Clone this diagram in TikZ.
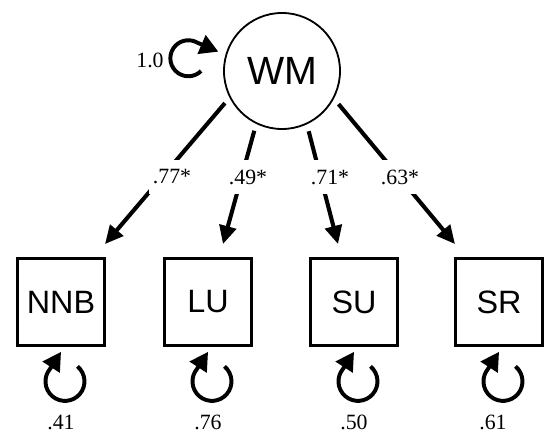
\documentclass[tikz,border=0pt]{standalone}
\usepackage{fontspec}
\setmainfont{Liberation Serif}
\setsansfont{Liberation Sans}
\usetikzlibrary{arrows.meta}

\begin{document}
\begin{tikzpicture}[x=0.025cm, y=0.025cm,
    latent/.style={circle, draw, line width=1.3pt, minimum size=2.9cm, inner sep=0pt, font=\sffamily\fontsize{28}{30}\selectfont},
    obs/.style={rectangle, draw, line width=1.9pt, minimum size=2.18cm, inner sep=0pt, font=\sffamily\fontsize{23}{25}\selectfont},
    load/.style={line width=2.9pt, -{Triangle[length=13pt,width=12pt]}, shorten <=5pt},
    var/.style={line width=2.8pt, -{Triangle[length=13pt,width=14pt]}},
    num/.style={font=\fontsize{15.5}{17}\selectfont},
    coef/.style={num, fill=white, inner xsep=3pt, minimum height=0.85cm}]
  \useasboundingbox (0,0) rectangle (544,433);
  \node[latent] (wm) at (282,362) {WM};
  \draw[var] ([shift={(-22,0)}]wm.west) arc[start angle=-45, end angle=-300, radius=18] -- ++(21,-9);
  \node[num] (wmvar) at (150,373) {1.0};
  % indicators with their error variances
  \foreach \n/\t/\x/\v/\lx in {nnb/NNB/61/.41/61, lu/LU/208/.76/208, su/SU/354/.50/354, sr/SR/499/.61/493}{
    \node[obs] (\n) at (\x,131) {\t};
    \draw[var] ([shift={(16.5,-19.5)}]\n.south) arc[start angle=50, end angle=-220, radius=19.5] -- ++(11,17);
    \node[num] (\n var) at (\lx,11) {\v};
  }
  \draw[load] (wm.207) -- ([shift={(44,13)}]nnb.north);
  \draw[load] (wm.244) -- ([shift={(15,13)}]lu.north);
  \draw[load] (wm.295) -- ([shift={(-16,13)}]su.north);
  \draw[load] (wm.332) -- ([shift={(-44,13)}]sr.north);
  % loadings
  \node[coef] (l1) at (172,256) {.77*};
  \node[coef] (l2) at (248,256) {.49*};
  \node[coef] (l3) at (330,256) {.71*};
  \node[coef] (l4) at (400,256) {.63*};
\end{tikzpicture}
\end{document}
